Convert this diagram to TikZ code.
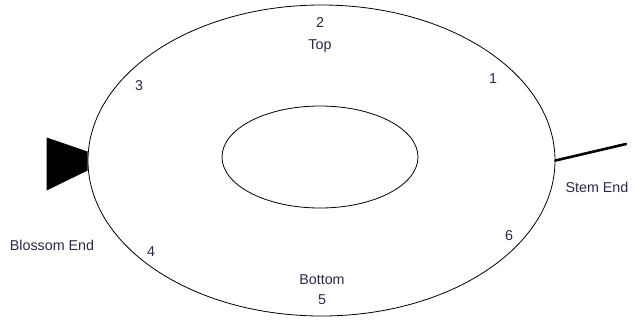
\documentclass[tikz,border=0pt]{standalone}
\usepackage{fontspec}
\setmainfont{Liberation Sans}
\usepackage{tikz}
\usetikzlibrary{shapes.geometric,positioning,calc}
\definecolor{ink}{HTML}{2E2648}

\begin{document}
\begin{tikzpicture}[
  x=1pt,y=-1pt,
  rim/.style={draw=black,ellipse,line width=0.8pt,inner sep=0pt},
  lbl/.style={font=\fontsize{14.3}{17}\selectfont,text=ink,inner sep=0pt,align=center},
  stem/.style={line width=2.6pt,line cap=round}]
  \useasboundingbox (0,0) rectangle (643,322);
  \node[rim,minimum width=467pt,minimum height=311pt] (fruit) at (321.5,160.5) {};
  \node[rim,minimum width=196pt,minimum height=102pt] (core) at (320,157) {};
  % blossom end and stem
  \fill ($(fruit.west)+(0,-9)$) -- ++(-41,-14) -- ++(0,53) -- ++(41,-20) -- cycle;
  \coordinate (tip) at (626,144);
  \draw[stem] (fruit.east) -- (tip);
  % positions round the rim
  \node[lbl] (p2) at (320,23) {2};
  \node[lbl,below=11pt of p2] (top) {Top};
  \node[lbl] (p3) at (139,86) {3};
  \node[lbl] (p1) at (493,79) {1};
  \node[lbl] (stemend) at (597,187) {Stem End};
  \node[lbl] (blossom) at (52,245) {Blossom End};
  \node[lbl] (p4) at (151,252) {4};
  \node[lbl] (p6) at (509,236) {6};
  \node[lbl] (bottom) at (322,280) {Bottom};
  \node[lbl,below=9pt of bottom] (p5) {5};
\end{tikzpicture}
\end{document}
